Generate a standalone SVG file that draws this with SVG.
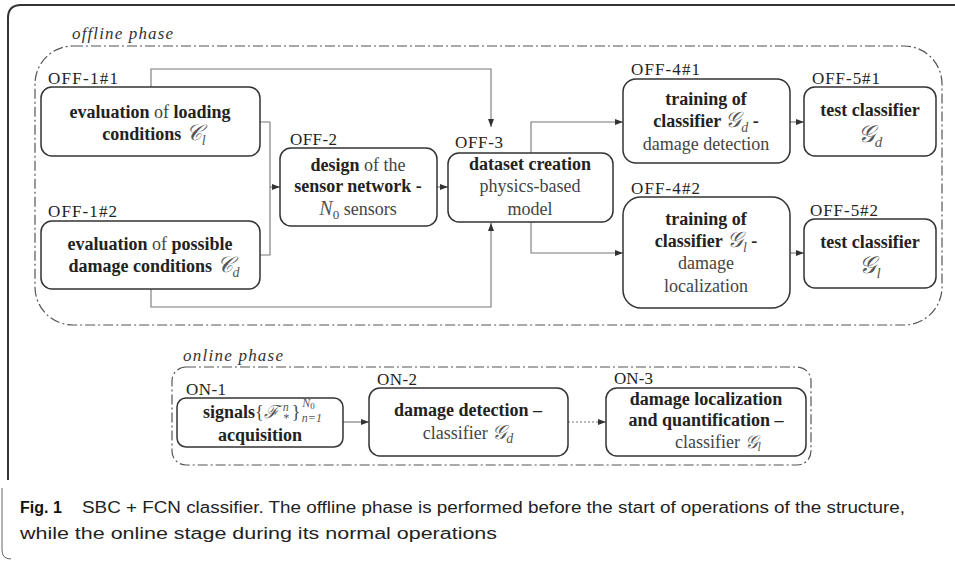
<svg xmlns="http://www.w3.org/2000/svg" width="955" height="562" viewBox="0 0 955 562">
<style>
text{font-family:"Liberation Serif","DejaVu Serif",serif;font-size:18px;fill:#333}
.b{font-weight:bold;fill:#222}
.r{fill:#444}
.m{font-style:italic;fill:#555;font-family:"Liberation Serif","DejaVu Serif",serif}
.s{font-size:12px}
.lbl{font-size:17px;fill:#222}
.ph{font-size:17px;font-style:italic;fill:#333}
.box{fill:#fff;stroke:#333;stroke-width:1.5}
.phase{fill:none;stroke:#555;stroke-width:1.2;stroke-dasharray:10 3 2 3}
.con{fill:none;stroke:#777;stroke-width:1.1}
.cap{font-family:"Liberation Sans","DejaVu Sans",sans-serif;font-size:16px;fill:#222}
</style>
<defs>
<marker id="ah" viewBox="0 0 8 8" refX="8" refY="4" markerWidth="8" markerHeight="8" markerUnits="userSpaceOnUse" orient="auto">
<path d="M0,1 L8,4 L0,7 Z" fill="#333"/>
</marker>
</defs>
<rect width="955" height="562" fill="#fff"/>
<g id="frame">
<path d="M955,5 H21 Q8,5 8,18 V480" fill="none" stroke="#333" stroke-width="2"/>
<path d="M2,488 V550 Q2,559 11,559" fill="none" stroke="#666" stroke-width="1"/>
</g>
<g id="offline-phase">
<rect class="phase" x="35" y="46" width="907" height="279" rx="38"/>
<text class="ph" x="72" y="39" textLength="101">offline phase</text>
</g>
<g id="online-phase">
<rect class="phase" x="172" y="367" width="639" height="98" rx="14"/>
<text class="ph" x="183" y="361" textLength="100">online phase</text>
</g>
<g id="connectors">
<path class="con" d="M260,122 H270 V255 H260"/>
<path class="con" d="M270,187 H280" marker-end="url(#ah)"/>
<path class="con" d="M437,187 H448" marker-end="url(#ah)"/>
<path class="con" d="M151,87 V69 H491 V127" marker-end="url(#ah)"/>
<path class="con" d="M151,289 V307 H491 V223" marker-end="url(#ah)"/>
<path class="con" d="M531,153 V122 H623" marker-end="url(#ah)"/>
<path class="con" d="M531,222 V253 H623" marker-end="url(#ah)"/>
<path class="con" d="M790,122 H804" marker-end="url(#ah)"/>
<path class="con" d="M790,253 H804" marker-end="url(#ah)"/>
<path class="con" d="M343,422 H369" marker-end="url(#ah)"/>
<path class="con" d="M568,422 H606" stroke-dasharray="2 2" marker-end="url(#ah)"/>
</g>
<g id="off-1-1">
<text class="lbl" x="48" y="84" textLength="70">OFF-1#1</text>
<rect class="box" x="41" y="87" width="219" height="69" rx="11"/>
<text x="150" y="118" text-anchor="middle"><tspan class="b">evaluation</tspan><tspan class="r"> of </tspan><tspan class="b">loading</tspan></text>
<text x="154" y="140" text-anchor="middle"><tspan class="b">conditions </tspan><tspan class="m" font-size="22">𝒞</tspan><tspan class="m" font-size="14" dy="5">l</tspan></text>
</g>
<g id="off-1-2">
<text class="lbl" x="48" y="217" textLength="69">OFF-1#2</text>
<rect class="box" x="41" y="221" width="219" height="68" rx="11"/>
<text x="150" y="250" text-anchor="middle"><tspan class="b">evaluation</tspan><tspan class="r"> of </tspan><tspan class="b">possible</tspan></text>
<text x="154" y="272" text-anchor="middle"><tspan class="b">damage conditions </tspan><tspan class="m" font-size="22">𝒞</tspan><tspan class="m" font-size="14" dy="5">d</tspan></text>
</g>
<g id="off-2">
<text class="lbl" x="290" y="145" textLength="47">OFF-2</text>
<rect class="box" x="280" y="148" width="157" height="78" rx="11"/>
<text x="358" y="171" text-anchor="middle"><tspan class="b">design</tspan><tspan class="r"> of the</tspan></text>
<text x="358" y="192" text-anchor="middle" class="b">sensor network -</text>
<text x="358" y="215" text-anchor="middle"><tspan class="m" font-size="20">N</tspan><tspan class="r" font-size="13" dy="4">0</tspan><tspan class="r" dy="-4"> sensors</tspan></text>
</g>
<g id="off-3">
<text class="lbl" x="455" y="148" textLength="48">OFF-3</text>
<rect class="box" x="448" y="153" width="165" height="69" rx="11"/>
<text x="530" y="170" text-anchor="middle" class="b">dataset creation</text>
<text x="530" y="192" text-anchor="middle" class="r">physics-based</text>
<text x="530" y="215" text-anchor="middle" class="r">model</text>
</g>
<g id="off-4-1">
<text class="lbl" x="631" y="75" textLength="69">OFF-4#1</text>
<rect class="box" x="623" y="79" width="167" height="84" rx="13"/>
<text x="706" y="105" text-anchor="middle" class="b">training of</text>
<text x="706" y="127" text-anchor="middle"><tspan class="b">classifier </tspan><tspan class="m" font-size="22">𝒢</tspan><tspan class="m" font-size="14" dy="5">d</tspan><tspan class="b" dy="-5"> -</tspan></text>
<text x="706" y="150" text-anchor="middle" class="r">damage detection</text>
</g>
<g id="off-4-2">
<text class="lbl" x="631" y="194" textLength="69">OFF-4#2</text>
<rect class="box" x="623" y="197" width="167" height="111" rx="18"/>
<text x="706" y="225" text-anchor="middle" class="b">training of</text>
<text x="706" y="247" text-anchor="middle"><tspan class="b">classifier </tspan><tspan class="m" font-size="22">𝒢</tspan><tspan class="m" font-size="14" dy="5">l</tspan><tspan class="b" dy="-5"> -</tspan></text>
<text x="706" y="269" text-anchor="middle" class="r">damage</text>
<text x="706" y="292" text-anchor="middle" class="r">localization</text>
</g>
<g id="off-5-1">
<text class="lbl" x="812" y="84" textLength="68">OFF-5#1</text>
<rect class="box" x="804" y="87" width="132" height="69" rx="11"/>
<text x="870" y="116" text-anchor="middle" class="b">test classifier</text>
<text x="870" y="142" text-anchor="middle"><tspan class="m" font-size="24">𝒢</tspan><tspan class="m" font-size="15" dy="5">d</tspan></text>
</g>
<g id="off-5-2">
<text class="lbl" x="810" y="216" textLength="68">OFF-5#2</text>
<rect class="box" x="804" y="219" width="132" height="69" rx="11"/>
<text x="870" y="248" text-anchor="middle" class="b">test classifier</text>
<text x="870" y="273" text-anchor="middle"><tspan class="m" font-size="24">𝒢</tspan><tspan class="m" font-size="15" dy="5">l</tspan></text>
</g>
<g id="on-1">
<text class="lbl" x="186" y="395" textLength="40">ON-1</text>
<rect class="box" x="177" y="398" width="166" height="49" rx="9"/>
<text x="203" y="418"><tspan class="b">signals</tspan><tspan class="r">{</tspan><tspan class="m">ℱ</tspan><tspan class="m s" dx="4" dy="-7">n</tspan><tspan class="m s" dx="-6" dy="11">*</tspan><tspan class="r" dx="3" dy="-4">}</tspan><tspan class="m s" dx="2" dy="-11">N</tspan><tspan class="r" font-size="9" dy="2">0</tspan><tspan class="m s" dx="-13" dy="13">n=1</tspan></text>
<text x="260" y="441" text-anchor="middle" class="b">acquisition</text>
</g>
<g id="on-2">
<text class="lbl" x="377" y="385" textLength="40">ON-2</text>
<rect class="box" x="369" y="388" width="199" height="68" rx="11"/>
<text x="468" y="416" text-anchor="middle" class="b">damage detection –</text>
<text x="468" y="439" text-anchor="middle"><tspan class="r">classifier </tspan><tspan class="m" font-size="20">𝒢</tspan><tspan class="m" font-size="14" dy="4">d</tspan></text>
</g>
<g id="on-3">
<text class="lbl" x="614" y="384" textLength="39">ON-3</text>
<rect class="box" x="606" y="388" width="200" height="68" rx="11"/>
<text x="706" y="405" text-anchor="middle" class="b">damage localization</text>
<text x="706" y="426" text-anchor="middle" class="b">and quantification –</text>
<text x="718" y="448" text-anchor="middle"><tspan class="r">classifier </tspan><tspan class="m" font-size="18">𝒢</tspan><tspan class="m" font-size="12" dy="3">l</tspan></text>
</g>
<g id="caption">
<text class="cap" x="20" y="513"><tspan font-weight="bold" fill="#111">Fig. 1</tspan></text>
<text class="cap" x="82" y="513" textLength="823" lengthAdjust="spacingAndGlyphs">SBC + FCN classifier. The offline phase is performed before the start of operations of the structure,</text>
<text class="cap" x="20" y="539" textLength="477" lengthAdjust="spacingAndGlyphs">while the online stage during its normal operations</text>
</g>
</svg>
